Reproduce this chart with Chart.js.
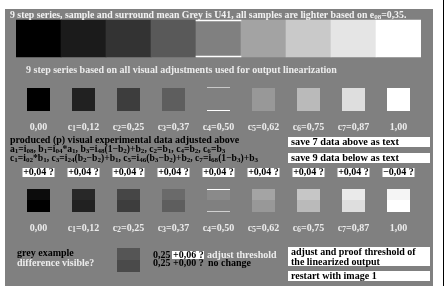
<!DOCTYPE html>
<html>
<head>
<meta charset="utf-8">
<script src="https://cdn.jsdelivr.net/npm/chart.js@4"></script>
<style>
  html, body { margin: 0; padding: 0; background: #fff; }
  canvas { display: block; }
</style>
</head>
<body>
<canvas id="chart" width="446" height="286"></canvas>
<script>
// step labels (underscore = subscript)
const steps = ['0,00', 'c_1=0,12', 'c_2=0,25', 'c_3=0,37', 'c_4=0,50', 'c_5=0,62', 'c_6=0,75', 'c_7=0,87', '1,00'];
// grey levels 0..255
const seriesGrey = [0, 27, 51, 89, 128, 163, 201, 229, 255];
const adjustedGrey = [0, 33, 61, 94, 128, 152, 186, 222, 255];
const outputTop = [12, 40, 70, 106, 138, 164, 198, 234, 245];
const outputBottom = [0, 33, 61, 94, 128, 152, 186, 222, 255];
const deltas = ['+0,04 ?', '+0,04 ?', '+0,04 ?', '+0,04 ?', '+0,04 ?', '+0,04 ?', '+0,04 ?', '+0,04 ?', '\u22120,04 ?'];
const exampleGrey = [85, 74];

const BG = '#808080';
const LIGHT = '#ececec';
const FONT = '"Liberation Serif", "Times New Roman", serif';
const grey = g => g == null ? 'rgba(0,0,0,0)' : `rgb(${g},${g},${g})`;

const only = (i, v) => steps.map((_, k) => k === i ? v : null);

// order: marks (1) are drawn over patches (2)
function bars(label, data, colors, pct, order) {
  return {
    label: label,
    data: data,
    backgroundColor: colors,
    borderWidth: 0,
    grouped: false,
    barPercentage: pct,
    categoryPercentage: 1,
    order: order || 2
  };
}

const SMALL = 23 / 45;
const datasets = [
  bars('series', steps.map(() => [20, 57]), seriesGrey.map(grey), 1),
  bars('seriesMarkTop', only(4, [20, 21]), '#ffffff', 1, 1),
  bars('seriesMarkBot', only(4, [56, 57]), '#ffffff', 1, 1),
  bars('adjusted', steps.map(() => [88, 111]), adjustedGrey.map(grey), SMALL),
  bars('adjMarkTop', only(4, [87, 88]), '#c8c8c8', SMALL, 1),
  bars('adjMarkBot', only(4, [110, 111]), '#ffffff', SMALL, 1),
  bars('outTop', steps.map(() => [189, 200]), outputTop.map(grey), SMALL),
  bars('outBottom', steps.map(() => [200, 212]), outputBottom.map(grey), SMALL),
  bars('outMarkTop', only(4, [189, 190]), '#ffffff', SMALL, 1),
  bars('outMarkBot', only(4, [211, 212]), '#d0d0d0', SMALL, 1),
  bars('exampleTop', only(2, [248, 260]), grey(exampleGrey[0]), SMALL),
  bars('exampleBot', only(2, [260, 272]), grey(exampleGrey[1]), SMALL)
];

function rich(ctx, str, x, y, size, color, align, subScale) {
  const parts = str.split(/(_\d+)/).filter(Boolean);
  const sub = size * (subScale || 0.8);
  let w = 0;
  const seg = parts.map(p => {
    const isSub = p[0] === '_';
    const t = isSub ? p.slice(1) : p;
    ctx.font = `bold ${isSub ? sub : size}px ${FONT}`;
    const m = ctx.measureText(t).width;
    w += m;
    return { t, isSub, m };
  });
  let cx = align === 'center' ? x - w / 2 : x;
  ctx.fillStyle = color;
  ctx.textBaseline = 'middle';
  ctx.textAlign = 'left';
  seg.forEach(s => {
    ctx.font = `bold ${s.isSub ? sub : size}px ${FONT}`;
    ctx.fillText(s.t, cx, s.isSub ? y + size * 0.2 : y);
    cx += s.m;
  });
}

function box(ctx, x0, y0, x1, y1) {
  ctx.fillStyle = '#ffffff';
  ctx.fillRect(x0, y0, x1 - x0, y1 - y0);
}

const page = {
  id: 'page',
  beforeDraw(chart) {
    const ctx = chart.ctx;
    ctx.save();
    ctx.fillStyle = '#ffffff';
    ctx.fillRect(0, 0, 446, 286);
    ctx.fillStyle = BG;
    ctx.fillRect(5, 9, 428, 277);
    ctx.fillStyle = '#000000';
    ctx.fillRect(443, 0, 1, 286);
    ctx.restore();
  },
  afterDatasetsDraw(chart) {
    const ctx = chart.ctx;
    const xs = chart.scales.x;
    ctx.save();
    rich(ctx, '9 step series, sample and surround mean Grey is U41, all samples are lighter based on e_08=0,35.', 10, 15, 9.8, '#f2f2f2', 'left', 0.72);
    rich(ctx, '9 step series based on all visual adjustments used for output linearization', 26, 70, 10, LIGHT, 'left');

    steps.forEach((s, i) => {
      const cx = xs.getPixelForValue(i);
      rich(ctx, s, cx, 127, 10, LIGHT, 'center');
      rich(ctx, s, cx, 228, 10, LIGHT, 'center');
      box(ctx, cx - 16, 168, cx + 16, 177);
      rich(ctx, deltas[i], cx, 172.5, 10, '#000', 'center');
    });

    rich(ctx, 'produced (p) visual experimental data adjusted above', 10, 140, 10, '#000', 'left');
    rich(ctx, 'a_1=i_08, b_1=i_04*a_1, b_3=i_48(1\u2212b_2)+b_2, c_2=b_1, c_4=b_2, c_6=b_3', 10, 149.5, 9.6, '#000', 'left', 0.74);
    rich(ctx, 'c_1=i_02*b_1, c_3=i_24(b_2\u2212b_2)+b_1, c_5=i_46(b_3\u2212b_2)+b_2, c_7=i_68(1\u2212b_3)+b_3', 10, 158.5, 9.6, '#000', 'left', 0.74);

    box(ctx, 288, 137, 430, 147);
    rich(ctx, 'save 7 data above as text', 291, 142, 10.3, '#000', 'left');
    box(ctx, 288, 153, 430, 163);
    rich(ctx, 'save 9 data below as text', 291, 158, 10.3, '#000', 'left');

    rich(ctx, 'grey example', 17, 253, 10, '#000', 'left');
    rich(ctx, 'difference visible?', 17, 263, 10, LIGHT, 'left');
    rich(ctx, '0,25', 153, 255, 10, '#000', 'left');
    box(ctx, 172, 251, 204, 259);
    rich(ctx, '+0,06 ?', 173, 255, 10, '#000', 'left');
    rich(ctx, 'adjust threshold', 207, 255, 10, LIGHT, 'left');
    rich(ctx, '0,25 +0,00 ?', 153, 263.5, 10, '#000', 'left');
    rich(ctx, 'no change', 208, 263.5, 10, '#000', 'left');

    box(ctx, 288, 247, 430, 266);
    rich(ctx, 'adjust and proof threshold of', 291, 252, 10, '#000', 'left');
    rich(ctx, 'the linearized output', 291, 262, 10, '#000', 'left');
    box(ctx, 288, 271, 430, 281);
    rich(ctx, 'restart with image 1', 291, 276.5, 10, '#000', 'left');
    ctx.restore();
  }
};

new Chart(document.getElementById('chart').getContext('2d'), {
  type: 'bar',
  data: { labels: steps, datasets: datasets },
  options: {
    responsive: false,
    animation: false,
    events: [],
    layout: { padding: { left: 16, right: 25, top: 0, bottom: 0 } },
    plugins: { legend: { display: false }, tooltip: { enabled: false } },
    scales: {
      x: { type: 'category', display: false, offset: true, grid: { display: false } },
      y: { type: 'linear', display: false, min: 0, max: 286, reverse: true }
    }
  },
  plugins: [page]
});
</script>
</body>
</html>
